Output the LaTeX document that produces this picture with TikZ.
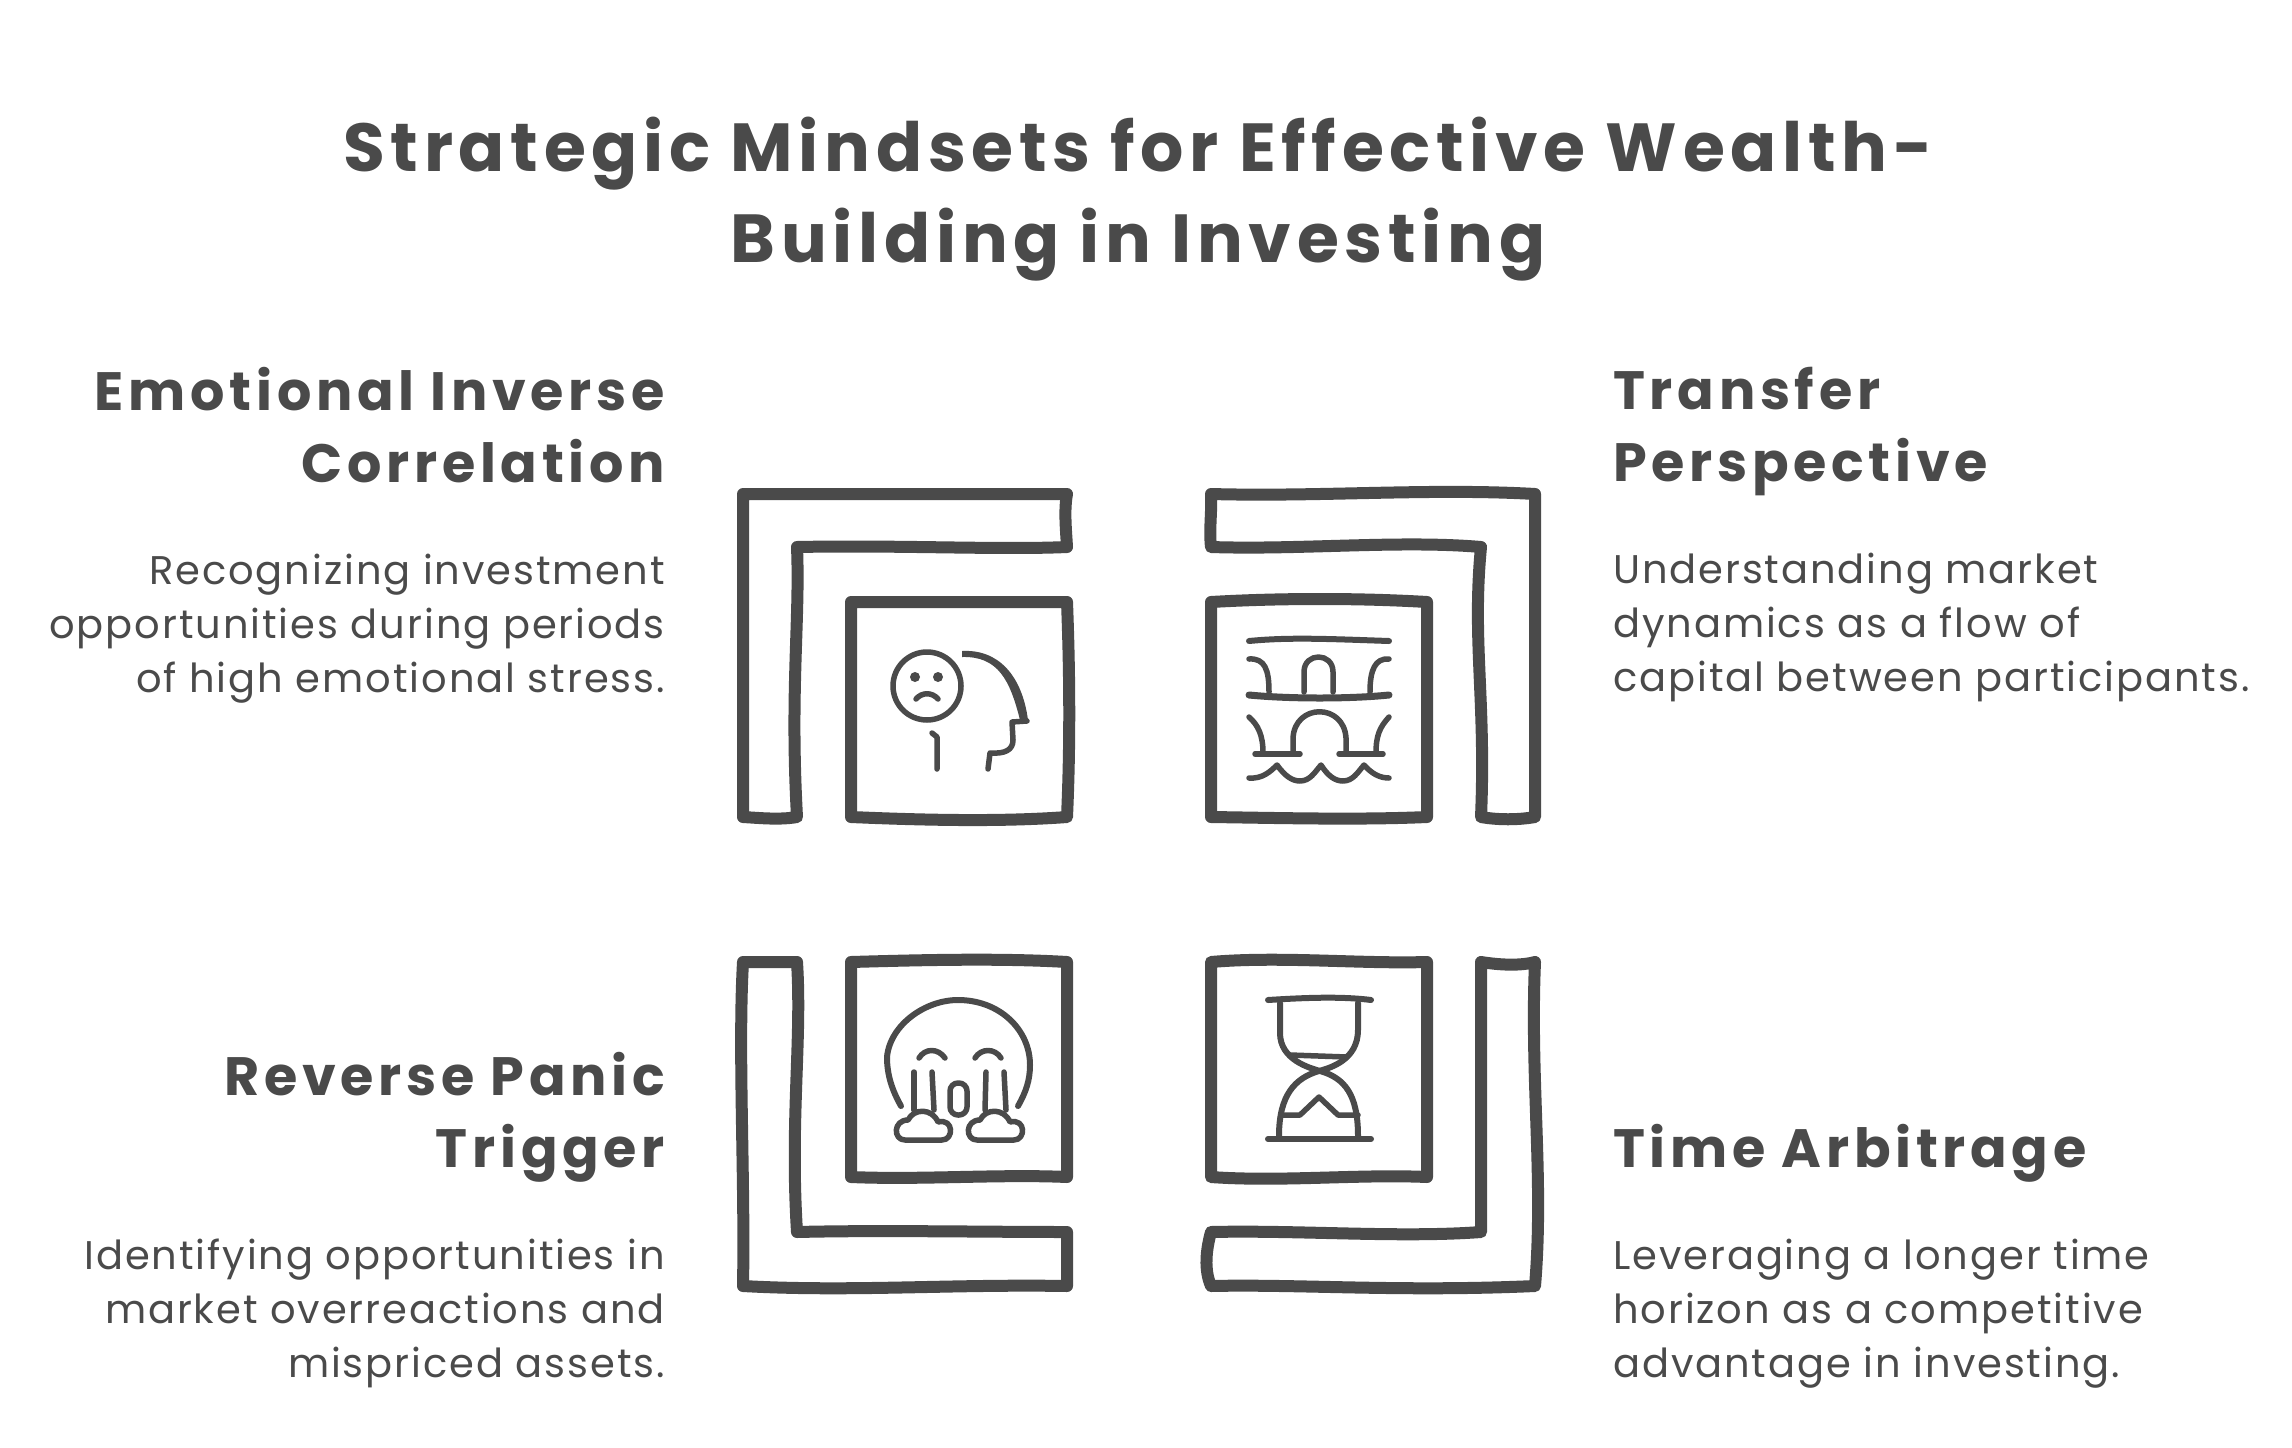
\documentclass[tikz,border=0pt]{standalone}
\usepackage{fontspec}
\setmainfont{Poppins}
\usetikzlibrary{arrows.meta, positioning}
\definecolor{inkgrey}{HTML}{4A4A4A}
\tikzset{
	framepart/.style={draw=inkgrey, line width=12pt, line join=round, line cap=round},
	iconline/.style={draw=inkgrey, line width=5.5pt, line join=round, line cap=round},
	titletext/.style={font=\fontsize{68}{91}\selectfont\bfseries\addfontfeature{LetterSpace=8.4}, align=center},
	headtext/.style={font=\fontsize{54}{72}\selectfont\bfseries\addfontfeature{LetterSpace=8.7}, text depth=14pt},
	bodytext/.style={font=\fontsize{40}{54}\selectfont\addfontfeature{LetterSpace=4.8}},
}
\begin{document}
\begin{tikzpicture}[x=1pt, y=-1pt,
		every node/.style={inner sep=0pt, text=inkgrey}]
	\useasboundingbox (0,0) rectangle (2292,1448);
	\node (title) [titletext] at (1138,199) {Strategic Mindsets for Effective Wealth-\\Building in Investing};
	% left column
	\node (emoHead) [headtext, align=right, anchor=north east] at (665,367) {Emotional Inverse\\Correlation};
	\node (emoBody) [bodytext, align=right, below=57pt of emoHead.south east, anchor=north east] {Recognizing investment\\opportunities during periods\\of high emotional stress.};
	\node (panicHead) [headtext, align=right, anchor=north east] at (665,1052) {Reverse Panic\\Trigger};
	\node (panicBody) [bodytext, align=right, below=57pt of panicHead.south east, anchor=north east] {Identifying opportunities in\\market overreactions and\\mispriced assets.};
	% right column
	\node (flowHead) [headtext, align=left, anchor=north west] at (1613,367) {Transfer\\Perspective};
	\node (flowBody) [bodytext, align=left, below=57pt of flowHead.south west, anchor=north west] {Understanding market\\dynamics as a flow of\\capital between participants.};
	\node (timeHead) [headtext, align=left, anchor=north west] at (1613,1124) {Time Arbitrage};
	\node (timeBody) [bodytext, align=left, below=57pt of timeHead.south west, anchor=north west] {Leveraging a longer time\\horizon as a competitive\\advantage in investing.};
	% frames, top left
	\draw [framepart] (743,494) -- (1067,494) .. controls (1064,510) and (1066,530) .. (1067,547)
		.. controls (1000,550) and (900,545) .. (797,547) .. controls (800,620) and (790,690) .. (797,817)
		.. controls (780,820) and (760,818) .. (743,817) -- cycle;
	\draw [framepart] (851,602) -- (1067,602) .. controls (1070,680) and (1070,750) .. (1067,817)
		.. controls (1000,822) and (920,820) .. (851,817) -- cycle;
	% frames, top right
	\draw [framepart] (1211,494) .. controls (1320,497) and (1430,488) .. (1535,494) -- (1535,817)
		.. controls (1518,820) and (1498,820) .. (1481,817) .. controls (1486,700) and (1472,640) .. (1481,547)
		.. controls (1400,540) and (1300,550) .. (1211,547) .. controls (1209,530) and (1212,510) .. (1211,494) -- cycle;
	\draw [framepart] (1211,602) .. controls (1280,598) and (1360,598) .. (1427,602) -- (1427,817)
		.. controls (1360,820) and (1280,818) .. (1211,817) -- cycle;
	% frames, bottom left
	\draw [framepart] (743,962) -- (797,962) .. controls (802,1040) and (790,1120) .. (797,1232)
		.. controls (880,1230) and (980,1232) .. (1067,1232) -- (1067,1286)
		.. controls (950,1284) and (850,1292) .. (743,1286) .. controls (745,1180) and (738,1050) .. (743,962) -- cycle;
	\draw [framepart] (851,962) .. controls (920,960) and (1000,958) .. (1067,962) -- (1067,1177)
		.. controls (1000,1174) and (920,1180) .. (851,1177) -- cycle;
	% frames, bottom right
	\draw [framepart] (1481,962) .. controls (1500,965) and (1520,966) .. (1535,962) .. controls (1530,1080) and (1544,1180) .. (1535,1286)
		.. controls (1400,1292) and (1300,1284) .. (1211,1286) .. controls (1204,1270) and (1206,1250) .. (1211,1232)
		.. controls (1300,1230) and (1400,1238) .. (1481,1232) -- cycle;
	\draw [framepart] (1211,962) .. controls (1280,956) and (1360,964) .. (1427,962) -- (1427,1177)
		.. controls (1360,1174) and (1280,1182) .. (1211,1177) -- cycle;
	% sad face and head
	\draw [iconline] (927,686) circle (34);
	\fill [inkgrey] (915,677) circle (5) (938,677) circle (5);
	\draw [iconline] (916,699) .. controls (922,692) and (932,692) .. (938,699);
	\draw [iconline] (932,733) -- (937,737) -- (937,769);
	\fill [inkgrey] (962,651) .. controls (998,649) and (1022,675) .. (1028,720) -- (1020,720)
		.. controls (1010,680) and (998,656) .. (962,657) -- cycle;
	\draw [iconline] (1027,721) -- (1012,722) -- (1013,740) .. controls (1013,750) and (1005,754) .. (990,753) -- (988,769);
	% bridge
	\draw [iconline, line width=6pt] (1249,641) .. controls (1290,637) and (1330,639) .. (1389,641);
	\draw [iconline] (1249,659) .. controls (1265,658) and (1269,670) .. (1269,692);
	\draw [iconline] (1304,692) -- (1304,672) .. controls (1304,652) and (1333,652) .. (1333,672) -- (1333,692);
	\draw [iconline] (1389,659) .. controls (1375,658) and (1370,670) .. (1370,692);
	\draw [iconline, line width=7pt] (1249,695) .. controls (1290,699) and (1350,699) .. (1389,695);
	\draw [iconline] (1249,717) .. controls (1258,725) and (1263,735) .. (1263,753);
	\draw [iconline] (1293,753) -- (1293,738) .. controls (1295,703) and (1344,703) .. (1346,738) -- (1346,753);
	\draw [iconline] (1389,717) .. controls (1380,727) and (1376,735) .. (1376,753);
	\draw [iconline] (1255,754) -- (1300,754);
	\draw [iconline] (1339,754) -- (1383,754);
	\draw [iconline] (1249,778) .. controls (1262,779) and (1270,772) .. (1277,765)
		.. controls (1285,776) and (1292,781) .. (1300,781) .. controls (1310,781) and (1315,772) .. (1321,765)
		.. controls (1328,776) and (1335,781) .. (1343,781) .. controls (1353,781) and (1358,772) .. (1364,765)
		.. controls (1372,774) and (1380,778) .. (1389,778);
	% crying face
	\draw [iconline, line width=6pt] (901,1106) .. controls (892,1090) and (887,1075) .. (887,1057)
		.. controls (890,1025) and (925,1000) .. (958,1000) .. controls (1000,1000) and (1030,1030) .. (1030,1065)
		.. controls (1030,1080) and (1026,1092) .. (1018,1106);
	\draw [iconline] (919,1058) .. controls (925,1048) and (938,1048) .. (945,1058);
	\draw [iconline] (975,1058) .. controls (981,1048) and (995,1048) .. (1001,1058);
	\draw [iconline] (914,1072) -- (914,1110);
	\draw [iconline] (932,1072) -- (934,1110);
	\draw [iconline] (986,1072) -- (985,1110);
	\draw [iconline] (1004,1072) -- (1006,1110);
	\draw [iconline, rounded corners=8pt] (950,1083) rectangle (967,1115);
	\draw [iconline] (905,1140) .. controls (893,1140) and (893,1120) .. (908,1120)
		.. controls (914,1108) and (932,1108) .. (938,1122) .. controls (954,1118) and (954,1140) .. (942,1140) -- cycle;
	\draw [iconline] (977,1140) .. controls (965,1140) and (965,1120) .. (980,1120)
		.. controls (986,1108) and (1004,1108) .. (1010,1122) .. controls (1026,1118) and (1026,1140) .. (1014,1140) -- cycle;
	% hourglass
	\draw [iconline, line width=6pt] (1268,1000) .. controls (1300,998) and (1340,996) .. (1371,1000);
	\draw [iconline, line width=6pt] (1268,1139) -- (1371,1139);
	\draw [iconline, line width=6pt] (1280,1003) -- (1280,1033) .. controls (1280,1060) and (1310,1068) .. (1320,1071)
		.. controls (1345,1078) and (1358,1095) .. (1358,1136);
	\draw [iconline, line width=6pt] (1358,1003) -- (1358,1030) .. controls (1358,1060) and (1330,1068) .. (1319,1071)
		.. controls (1295,1078) and (1279,1095) .. (1279,1136);
	\draw [iconline] (1290,1055) -- (1347,1057);
	\draw [iconline] (1282,1115) -- (1300,1115) -- (1319,1097) -- (1338,1115) -- (1358,1115);
\end{tikzpicture}
\end{document}
